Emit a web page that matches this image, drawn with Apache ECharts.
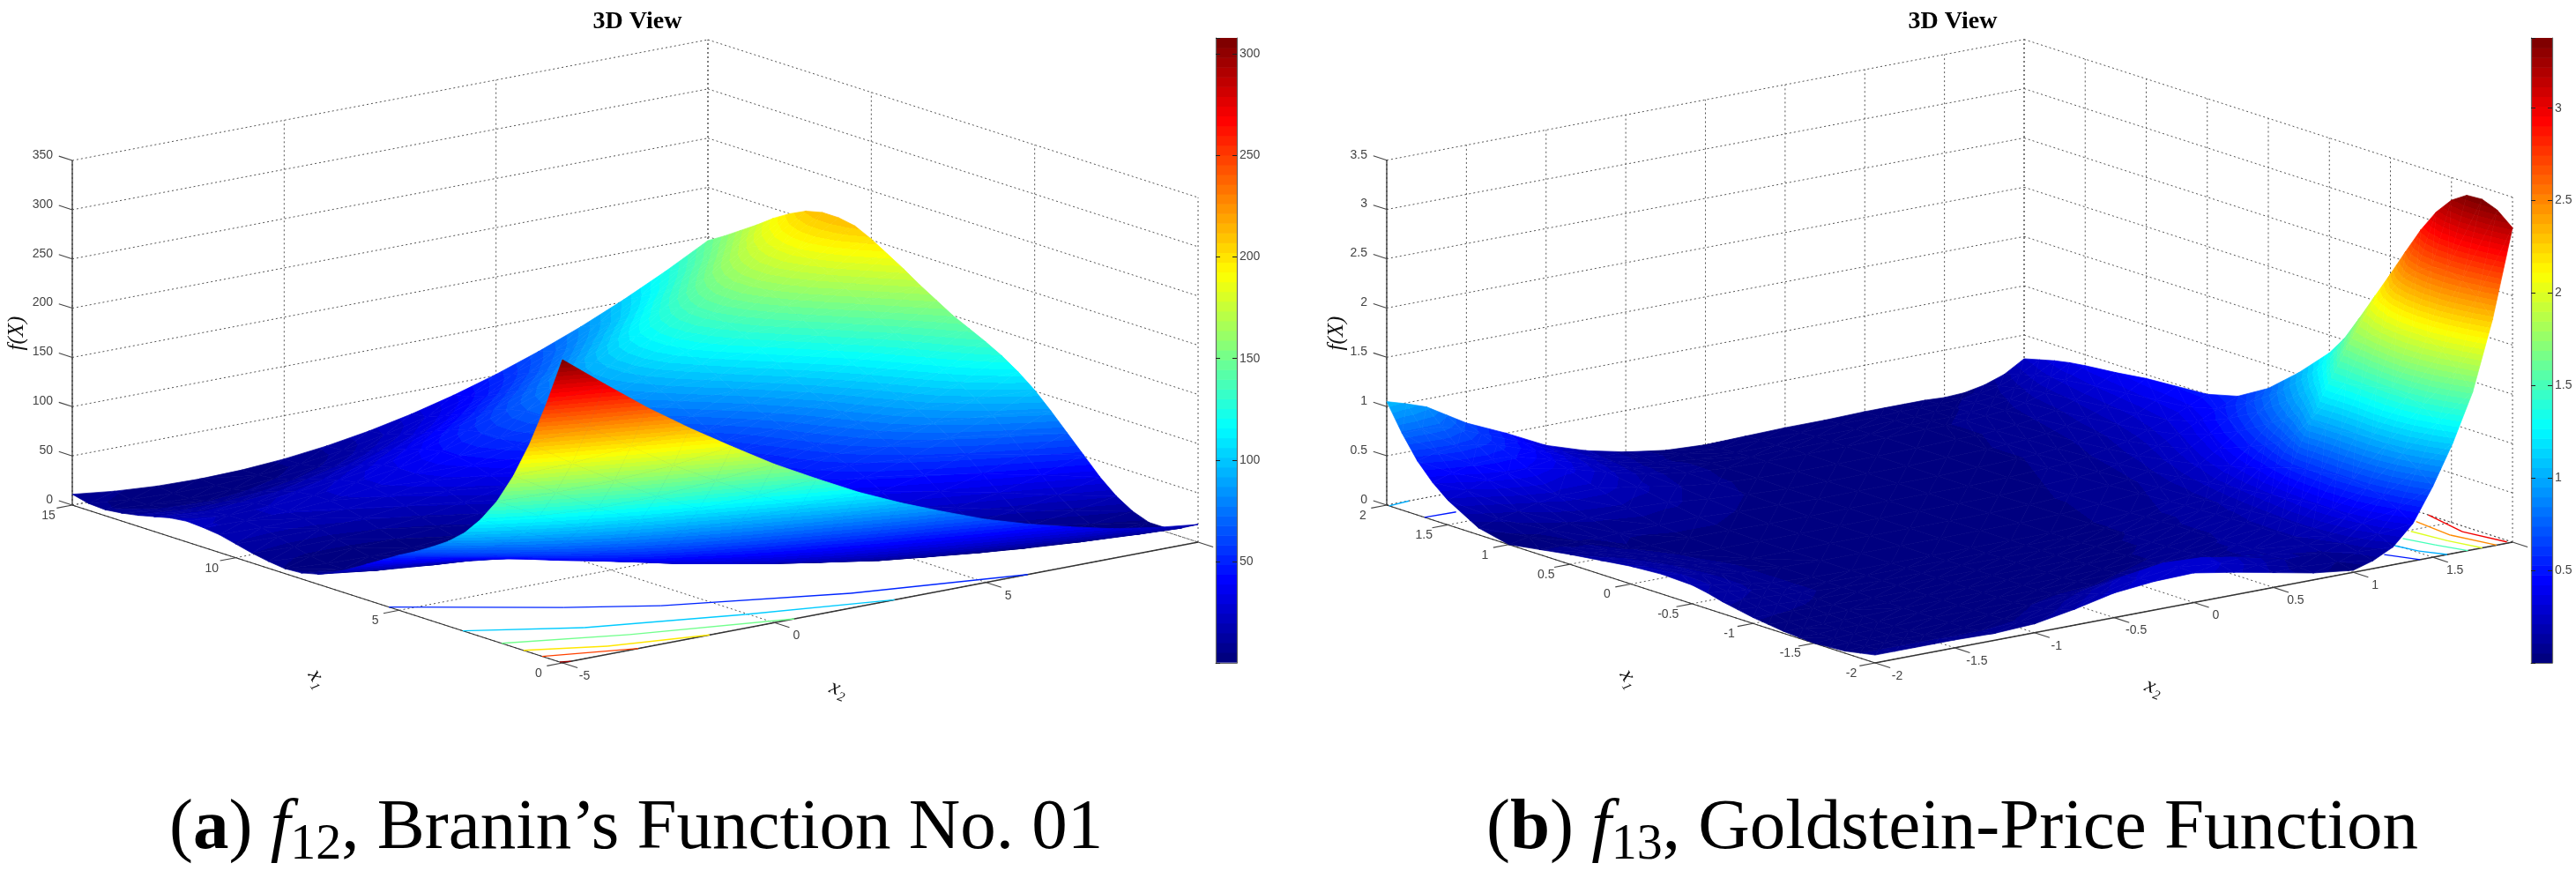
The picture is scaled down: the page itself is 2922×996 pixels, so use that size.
<!DOCTYPE html>
<html><head><meta charset="utf-8">
<style>html,body{margin:0;padding:0;background:#fff}#c{width:2922px;height:996px}</style>
<script src="https://cdn.jsdelivr.net/npm/echarts@6/dist/echarts.min.js"></script>
</head><body><div id="c"></div>
<script>
// ---------- chart data ----------
const aX1Grid=[0,.5,1,1.5,2,2.5,3,3.5,4,4.5,5,5.5,6,6.5,7,7.5,8,8.5,9,9.5,10,10.5,11,11.5,12,12.5,13,13.5,14,14.5,15];
const aX2Grid=[-5,-4,-3,-2,-1,0,1,2,3,4,5,6,7,8,9,10];
const aValues=[
[308,275,243,214,187,161,138,116,97,80,64,51,40,30,23,18],
[257,226,198,171,147,124,104,85,68,54,41,31,22,16,11,9],
[212,184,158,134,113,93,75,59,45,33,23,16,10,6,4,4],
[174,149,125,104,85,67,52,39,28,18,11,6,2,1,2,4],
[143,120,99,80,63,49,36,25,16,9,4,1,0,2,5,10],
[119,98,80,63,48,36,25,17,10,6,3,2,4,7,13,20],
[100,82,65,51,38,28,20,13,9,6,6,8,11,17,24,34],
[86,70,55,43,33,24,18,13,11,11,12,16,22,29,39,51],
[75,60,48,37,29,23,18,16,15,17,20,26,33,43,55,68],
[65,52,42,33,26,22,19,18,20,23,29,36,45,57,70,85],
[56,45,36,29,24,21,20,21,24,29,36,45,56,69,84,101],
[46,36,29,23,20,18,19,22,26,33,41,52,64,79,95,114],
[36,28,22,18,15,15,17,21,27,35,45,57,71,87,105,125],
[26,19,14,11,11,12,15,20,27,37,48,61,76,93,113,134],
[17,11,8,6,6,9,13,19,28,38,50,65,81,99,120,142],
[10,6,3,2,4,7,12,20,29,40,54,69,86,106,127,150],
[6,2,1,1,3,7,14,22,32,44,58,75,93,113,135,160],
[5,2,1,2,5,10,17,26,37,50,65,82,101,122,145,170],
[7,4,4,5,9,15,22,32,43,57,73,90,110,131,155,181],
[10,8,8,10,14,21,29,39,51,65,81,99,119,141,165,191],
[14,13,13,16,20,27,35,46,58,72,89,107,128,150,175,201],
[18,17,18,20,25,32,40,51,64,78,95,114,134,157,182,209],
[20,19,20,23,28,34,43,54,67,82,98,117,138,161,186,212],
[21,19,20,23,28,34,43,54,67,82,98,117,138,161,185,212],
[19,17,18,21,25,32,40,51,64,78,95,114,134,157,181,208],
[15,13,14,16,20,27,35,46,58,72,89,107,127,150,174,200],
[11,9,9,11,15,21,29,39,50,64,80,98,118,140,164,190],
[8,5,4,6,9,14,22,31,43,56,71,89,108,130,153,178],
[6,3,1,2,5,9,16,25,36,48,63,80,98,119,142,167],
[7,3,1,1,3,6,12,20,30,42,56,72,90,110,132,156],
[11,6,3,2,3,6,11,18,27,38,51,66,83,102,123,146]];
const bX1Grid=[-2,-1.875,-1.75,-1.625,-1.5,-1.375,-1.25,-1.125,-1,-.875,-.75,-.625,-.5,-.25,0,.25,.5,.75,1,1.25,1.5,1.625,1.75,1.875,2];
const bX2Grid=[-2,-1.875,-1.75,-1.625,-1.5,-1.25,-1,-.75,-.5,-.25,0,.25,.5,.75,1,1.125,1.25,1.375,1.5,1.625,1.75,1.875,2];
const bValues=[
[.08,.08,.08,.08,.08,.07,.09,.16,.25,.29,.30,.23,.15,.07,.02,.08,.18,.38,.72,1.12,1.6,2.3,3.19],
[.05,.05,.05,.05,.05,.05,.06,.11,.19,.27,.31,.27,.18,.08,.05,.12,.26,.48,.85,1.28,1.78,2.48,3.32],
[.02,.03,.03,.03,.03,.03,.04,.07,.14,.24,.30,.28,.20,.11,.10,.16,.32,.55,.95,1.40,1.92,2.6,3.38],
[.01,.02,.02,.02,.02,.03,.03,.05,.08,.14,.18,.19,.16,.11,.13,.18,.35,.6,1.0,1.45,2.0,2.65,3.37],
[.00,.01,.02,.02,.02,.03,.03,.03,.04,.05,.08,.10,.10,.11,.15,.20,.36,.62,1.02,1.47,2.02,2.63,3.27],
[.01,.01,.02,.02,.02,.03,.03,.03,.03,.04,.05,.07,.09,.11,.15,.2,.36,.62,1.0,1.44,1.98,2.54,3.1],
[.02,.02,.02,.02,.02,.03,.03,.03,.03,.03,.04,.05,.07,.11,.15,.2,.35,.6,.98,1.4,1.9,2.4,2.87],
[.04,.03,.03,.03,.03,.03,.03,.03,.03,.03,.04,.05,.07,.10,.15,.19,.33,.58,.98,1.38,1.8,2.2,2.6],
[.06,.055,.05,.045,.04,.03,.03,.03,.03,.03,.03,.04,.06,.10,.14,.18,.31,.55,1.0,1.36,1.72,2.02,2.32],
[.09,.08,.07,.06,.05,.04,.03,.03,.03,.03,.03,.04,.06,.10,.14,.17,.29,.5,.8,1.12,1.46,1.76,2.05],
[.12,.105,.09,.075,.06,.04,.03,.03,.03,.03,.03,.03,.05,.09,.13,.16,.27,.44,.67,.94,1.23,1.52,1.78],
[.16,.135,.11,.09,.06,.04,.03,.03,.03,.03,.03,.03,.05,.09,.13,.15,.25,.40,.59,.82,1.06,1.30,1.52],
[.19,.155,.12,.09,.06,.04,.03,.03,.03,.03,.03,.03,.05,.08,.12,.14,.23,.36,.52,.72,.92,1.13,1.32],
[.20,.16,.12,.09,.06,.04,.03,.03,.03,.03,.03,.03,.04,.07,.10,.12,.19,.28,.40,.54,.70,.86,1.02],
[.18,.145,.11,.08,.06,.03,.03,.03,.03,.03,.03,.03,.04,.06,.08,.10,.15,.22,.30,.41,.53,.65,.76],
[.14,.115,.09,.07,.05,.03,.03,.03,.03,.03,.03,.03,.03,.05,.07,.08,.12,.17,.23,.31,.40,.49,.58],
[.10,.08,.06,.05,.04,.04,.04,.03,.03,.03,.03,.03,.03,.04,.06,.07,.10,.14,.18,.25,.32,.41,.50],
[.05,.05,.05,.055,.06,.07,.07,.05,.04,.03,.03,.03,.03,.04,.05,.06,.08,.11,.15,.21,.28,.38,.48],
[.00,.04,.07,.10,.12,.14,.12,.08,.05,.03,.03,.03,.03,.04,.05,.06,.07,.09,.13,.18,.25,.35,.46],
[.07,.12,.16,.21,.24,.24,.18,.11,.06,.04,.03,.03,.03,.04,.05,.05,.06,.08,.11,.15,.22,.32,.42],
[.25,.31,.38,.41,.42,.34,.23,.13,.07,.04,.03,.03,.03,.04,.05,.05,.06,.07,.09,.13,.19,.28,.39],
[.38,.44,.49,.50,.49,.38,.25,.14,.07,.04,.03,.03,.03,.03,.04,.05,.05,.06,.08,.11,.17,.26,.37],
[.55,.60,.62,.60,.56,.42,.27,.15,.07,.03,.02,.02,.03,.03,.04,.04,.05,.05,.07,.09,.14,.23,.34],
[.78,.78,.77,.70,.62,.46,.28,.16,.08,.03,.01,.02,.02,.03,.03,.04,.04,.04,.05,.07,.11,.19,.30],
[1.05,.99,.92,.80,.68,.50,.30,.17,.08,.02,.00,.01,.02,.02,.03,.03,.03,.03,.02,.03,.07,.14,.26]];
const aX1Ticks=[0,5,10,15], aX2Ticks=[-5,0,5,10], aZTicks=[0,50,100,150,200,250,300,350];
const bX1Ticks=[-2,-1.5,-1,-.5,0,.5,1,1.5,2], bX2Ticks=[-2,-1.5,-1,-.5,0,.5,1,1.5,2], bZTicks=[0,.5,1,1.5,2,2.5,3,3.5];
const aX2Labelled=[-5,0,5], bX2Labelled=[-2,-1.5,-1,-.5,0,.5,1,1.5];
const aContourLevels=[50,100,150,200,250,300];
const aContours=[
[[5.31,-5],[3.3,-2.43],[2.3,-.9],[.89,2.49],[0,5.98]],
[[3.05,-5],[1.86,-3.05],[.82,-.05],[0,2.84]],
[[1.86,-5],[.93,-2.7],[0,.47]],
[[1.19,-5],[.49,-3.56],[0,-1.53]],
[[.62,-5],[0,-3.21]],
[[.08,-5],[0,-4.8]]];
const bContourLevels=[.5,1,1.5,2,2.5,3,1,.5];
const bContours=[
[[-2,1.42],[-1.81,1.34]],
[[-2,1.59],[-1.86,1.52],[-1.70,1.49]],
[[-2,1.72],[-1.81,1.66],[-1.61,1.61]],
[[-2,1.81],[-1.78,1.76],[-1.52,1.73]],
[[-2,1.90],[-1.70,1.84],[-1.38,1.87]],
[[-1.98,1.98],[-1.68,1.93],[-1.31,2.0]],
[[1.98,-2],[2,-1.86]],
[[1.69,-2],[1.68,-1.81]]];
const aColorTicksMax=308, bColorTicksMax=3.38;

// ---------- layout and colour ----------
const FONT='"Liberation Sans"', SERIF='"Liberation Serif"';
const panelA={F:[638,752],L:[82,573],R:[1359,615],zs:1.117,x1r:[0,15],x2r:[-5,10],zr:[0,350],c:[.4,aColorTicksMax],
  x1T:aX1Ticks,x2T:aX2Ticks,zT:aZTicks,x2L:aX2Labelled,x1G:aX1Grid,x2G:aX2Grid,v:aValues,lev:aContourLevels,con:aContours,
  names:[[19,378,Math.PI/2,'f(X)'],[360,770,-1.0,'x₁'],[951,782,-.35,'x₂']]};
const panelB={F:[2127,752],L:[1573,573],R:[2850,615],zs:111.8,x1r:[-2,2],x2r:[-2,2],zr:[0,3.5],c:[0,bColorTicksMax],
  x1T:bX1Ticks,x2T:bX2Ticks,zT:bZTicks,x2L:bX2Labelled,x1G:bX1Grid,x2G:bX2Grid,v:bValues,lev:bContourLevels,con:bContours,
  names:[[1516,378,Math.PI/2,'f(X)'],[1848,770,-1.0,'x₁'],[2443,780,-.35,'x₂']]};
function project(P,x1,x2,z){
  const a=(x1-P.x1r[0])/(P.x1r[1]-P.x1r[0]), b=(x2-P.x2r[0])/(P.x2r[1]-P.x2r[0]);
  return [P.F[0]+a*(P.L[0]-P.F[0])+b*(P.R[0]-P.F[0]), P.F[1]+a*(P.L[1]-P.F[1])+b*(P.R[1]-P.F[1])-z*P.zs];
}
const cl=v=>Math.max(0,Math.min(1,v));
function jet(t){t=cl(t);const h=x=>Math.round(255*cl(x));
  return 'rgb('+h(1.5-Math.abs(4*t-3))+','+h(1.5-Math.abs(4*t-2))+','+h(1.5-Math.abs(4*t-1))+')';}
const BANDS=64, STOPS=[];
for(let i=0;i<BANDS;i++){const c=jet(i/(BANDS-1));STOPS.push({offset:i/BANDS,color:c},{offset:(i+1)/BANDS,color:c});}
function triFill(p,v,c){
  const dx1=p[1][0]-p[0][0],dy1=p[1][1]-p[0][1],dx2=p[2][0]-p[0][0],dy2=p[2][1]-p[0][1];
  const den=dx1*dy2-dx2*dy1,dv1=v[1]-v[0],dv2=v[2]-v[0];
  const mean=(v[0]+v[1]+v[2])/3, solid=jet(Math.floor((mean-c[0])/(c[1]-c[0])*BANDS)/(BANDS-1));
  if(Math.abs(den)<1e-6)return solid;
  const gx=(dv1*dy2-dv2*dy1)/den,gy=(dv2*dx1-dv1*dx2)/den,n=gx*gx+gy*gy;
  if(n<1e-9*(c[1]-c[0])*(c[1]-c[0]))return solid;
  return {type:'linear',global:true,
    x:p[0][0]+(c[0]-v[0])*gx/n,y:p[0][1]+(c[0]-v[0])*gy/n,
    x2:p[0][0]+(c[1]-v[0])*gx/n,y2:p[0][1]+(c[1]-v[0])*gy/n,colorStops:STOPS};
}
function unit(a,b,l){const x=b[0]-a[0],y=b[1]-a[1],n=Math.hypot(x,y);return [x/n*l,y/n*l];}

// ---------- series builders ----------
function segSeries(P,segs,style){
  return {type:'custom',xAxisIndex:0,yAxisIndex:0,coordinateSystem:'cartesian2d',silent:true,clip:false,progressive:0,animation:false,
    data:segs,renderItem:(ps,api)=>{
      const A=api.coord(project(P,api.value(0),api.value(1),api.value(2)));
      const B=api.coord(project(P,api.value(3),api.value(4),api.value(5)));
      return {type:'line',shape:{x1:A[0],y1:A[1],x2:B[0],y2:B[1]},style:style};
    }};
}
function gridSegs(P){
  const [x1a,x1b]=P.x1r,[x2a,x2b]=P.x2r,[za,zb]=P.zr,s=[];
  P.zT.forEach(z=>{s.push([x1b,x2a,z,x1b,x2b,z],[x1b,x2b,z,x1a,x2b,z]);});
  P.x2T.forEach(x=>{s.push([x1b,x,za,x1b,x,zb],[x1a,x,za,x1b,x,za]);});
  P.x1T.forEach(x=>{s.push([x,x2b,za,x,x2b,zb],[x,x2a,za,x,x2b,za]);});
  return s;
}
function axisSegs(P){
  const [x1a,x1b]=P.x1r,[x2a,x2b]=P.x2r,[za,zb]=P.zr;
  return [[x1b,x2a,za,x1b,x2a,zb],[x1a,x2a,za,x1b,x2a,za],[x1a,x2a,za,x1a,x2b,za]];
}
function contourSeries(P){
  const rows=[];
  P.con.forEach((line,k)=>{for(let i=0;i+1<line.length;i++)rows.push([line[i][0],line[i][1],line[i+1][0],line[i+1][1],P.lev[k]]);});
  return {type:'custom',xAxisIndex:0,yAxisIndex:0,silent:true,clip:false,progressive:0,animation:false,data:rows,
    renderItem:(ps,api)=>{
      const A=api.coord(project(P,api.value(0),api.value(1),0)),B=api.coord(project(P,api.value(2),api.value(3),0));
      return {type:'line',shape:{x1:A[0],y1:A[1],x2:B[0],y2:B[1]},
        style:{stroke:jet((api.value(4)-P.c[0])/(P.c[1]-P.c[0])),lineWidth:1.4,fill:null}};
    }};
}
function surfaceSeries(P){
  const rows=[],X1=P.x1G,X2=P.x2G,V=P.v;
  for(let i=X1.length-2;i>=0;i--)for(let j=X2.length-2;j>=0;j--){
    const p00=[X1[i],X2[j],V[i][j]],p01=[X1[i],X2[j+1],V[i][j+1]],p10=[X1[i+1],X2[j],V[i+1][j]],p11=[X1[i+1],X2[j+1],V[i+1][j+1]];
    if(Math.abs(p00[2]-p11[2])<=Math.abs(p01[2]-p10[2])){
      rows.push([...p11,...p10,...p00],[...p11,...p01,...p00]);
    }else{
      rows.push([...p10,...p11,...p01],[...p10,...p00,...p01]);
    }
  }
  return {type:'custom',xAxisIndex:0,yAxisIndex:0,silent:true,clip:false,progressive:0,animation:false,data:rows,
    renderItem:(ps,api)=>{
      const pts=[],vals=[];
      for(let k=0;k<3;k++){const z=api.value(3*k+2);vals.push(z);pts.push(api.coord(project(P,api.value(3*k),api.value(3*k+1),z)));}
      const f=triFill(pts,vals,P.c);
      return {type:'polygon',shape:{points:pts},style:{fill:f,stroke:f,lineWidth:.7}};
    }};
}
function decor(P){
  const items=[],[x1a,x1b]=P.x1r,[x2a]=P.x2r;
  const dZ=unit(P.F,P.L,16),dX1=unit(P.R,P.F,18),dX2=unit(P.L,P.F,18);
  P.zT.forEach(z=>items.push({pt:[x1b,x2a,z],d:dZ,t:String(z),o:[-22,-6],al:'right'}));
  P.x1T.forEach(x=>items.push({pt:[x,x2a,0],d:dX1,t:String(x),o:[-27,12],al:'center'}));
  P.x2T.forEach(x=>items.push({pt:[x1a,x,0],d:dX2,t:P.x2L.includes(x)?String(x):'',o:[25,15],al:'center'}));
  return {type:'custom',xAxisIndex:0,yAxisIndex:0,silent:true,clip:false,progressive:0,animation:false,
    data:items.map((it,i)=>[i]),
    renderItem:(ps,api)=>{
      const it=items[ps.dataIndex],c=api.coord(project(P,it.pt[0],it.pt[1],it.pt[2]));
      return {type:'group',children:[
        {type:'line',shape:{x1:c[0],y1:c[1],x2:c[0]+it.d[0],y2:c[1]+it.d[1]},style:{stroke:'#444',lineWidth:1.1}},
        {type:'text',x:c[0]+it.o[0],y:c[1]+it.o[1],style:{text:it.t,font:'14px '+FONT,fill:'#444',align:it.al,verticalAlign:'middle'}}
      ]};
    }};
}
function nameSeries(P){
  return {type:'custom',xAxisIndex:0,yAxisIndex:0,silent:true,clip:false,progressive:0,animation:false,
    data:P.names.map((n,i)=>[n[0],n[1],i]),
    renderItem:(ps,api)=>{
      const n=P.names[ps.dataIndex],c=api.coord([api.value(0),api.value(1)]);
      return {type:'text',x:c[0],y:c[1],rotation:n[2],style:{text:n[3],font:'italic 25px '+SERIF,fill:'#111',align:'center',verticalAlign:'middle'}};
    }};
}
function barSeries(P,gi){
  const rows=[];for(let i=0;i<BANDS;i++)rows.push([P.c[0]+(P.c[1]-P.c[0])*i/BANDS,P.c[0]+(P.c[1]-P.c[0])*(i+1)/BANDS,i]);
  return {type:'custom',xAxisIndex:gi,yAxisIndex:gi*2-1,silent:true,clip:false,progressive:0,animation:false,data:rows,
    renderItem:(ps,api)=>{
      const A=api.coord([0,api.value(0)]),B=api.coord([1,api.value(1)]);
      const c=jet(api.value(2)/(BANDS-1));
      return {type:'rect',shape:{x:A[0],y:B[1],width:B[0]-A[0],height:A[1]-B[1]+.6},style:{fill:c}};
    }};
}
function panelSeries(P,gi){
  const gridStyle={stroke:'#555',lineWidth:1,lineDash:[2,3],fill:null};
  const axStyle={stroke:'#333',lineWidth:1.3,fill:null};
  return [segSeries(P,gridSegs(P),gridStyle),segSeries(P,axisSegs(P),axStyle),contourSeries(P),decor(P),surfaceSeries(P),nameSeries(P),barSeries(P,gi)];
}
function barY(max,interval,idx,side){
  return {type:'value',gridIndex:idx,min:0,max:max,interval:interval,position:side,z:6,
    axisLine:{show:true,onZero:false,lineStyle:{color:'#666',width:1.2}},splitLine:{show:false},
    axisTick:{show:true,inside:true,length:5,lineStyle:{color:'#222'}},
    axisLabel:{show:side==='right',showMinLabel:false,showMaxLabel:false,margin:3,color:'#444',fontFamily:FONT,fontSize:14,hideOverlap:false}};
}
const cap={fontFamily:SERIF,fontSize:81,fontWeight:'normal',color:'#000'};
const captionRich={b:{...cap,fontWeight:'bold'},i:{...cap,fontStyle:'italic'},
  s:{...cap,fontSize:58,padding:[36,0,0,0]},n:{...cap}};
const titleStyle={fontFamily:SERIF,fontWeight:'bold',fontSize:28,color:'#000'};
const chart=echarts.init(document.getElementById('c'),null,{renderer:'canvas',width:2922,height:996});
chart.setOption({
  animation:false,backgroundColor:'#fff',
  title:[
    {text:'3D View',left:718,top:6,textAlign:'center',textStyle:titleStyle},
    {text:'3D View',left:2210,top:6,textAlign:'center',textStyle:titleStyle},
    {text:'{n|(}{b|a}{n|) }{i|f}{s|12}{n|, Branin’s Function No. 01}',left:187,top:889,textStyle:{rich:captionRich,fontSize:81,fontFamily:SERIF,fontWeight:'normal'}},
    {text:'{n|(}{b|b}{n|) }{i|f}{s|13}{n|, Goldstein-Price Function}',left:1681,top:889,textStyle:{rich:captionRich,fontSize:81,fontFamily:SERIF,fontWeight:'normal'}}
  ],
  grid:[
    {left:0,top:0,right:0,bottom:0,show:false},
    {left:1379,top:43,width:24,height:709,show:false},
    {left:2871,top:43,width:24,height:709,show:false}
  ],
  xAxis:[
    {type:'value',gridIndex:0,min:0,max:2922,show:false},
    {type:'value',gridIndex:1,min:0,max:1,position:'bottom',axisLine:{show:true,onZero:false,lineStyle:{color:'#666'}},axisTick:{show:false},axisLabel:{show:false},splitLine:{show:false},z:6},
    {type:'value',gridIndex:2,min:0,max:1,position:'bottom',axisLine:{show:true,onZero:false,lineStyle:{color:'#666'}},axisTick:{show:false},axisLabel:{show:false},splitLine:{show:false},z:6}
  ],
  yAxis:[
    {type:'value',gridIndex:0,min:0,max:996,inverse:true,show:false},
    barY(aColorTicksMax,50,1,'right'),barY(aColorTicksMax,50,1,'left'),
    barY(bColorTicksMax,.5,2,'right'),barY(bColorTicksMax,.5,2,'left')
  ],
  series:[...panelSeries(panelA,1),...panelSeries(panelB,2)]
});
</script></body></html>
